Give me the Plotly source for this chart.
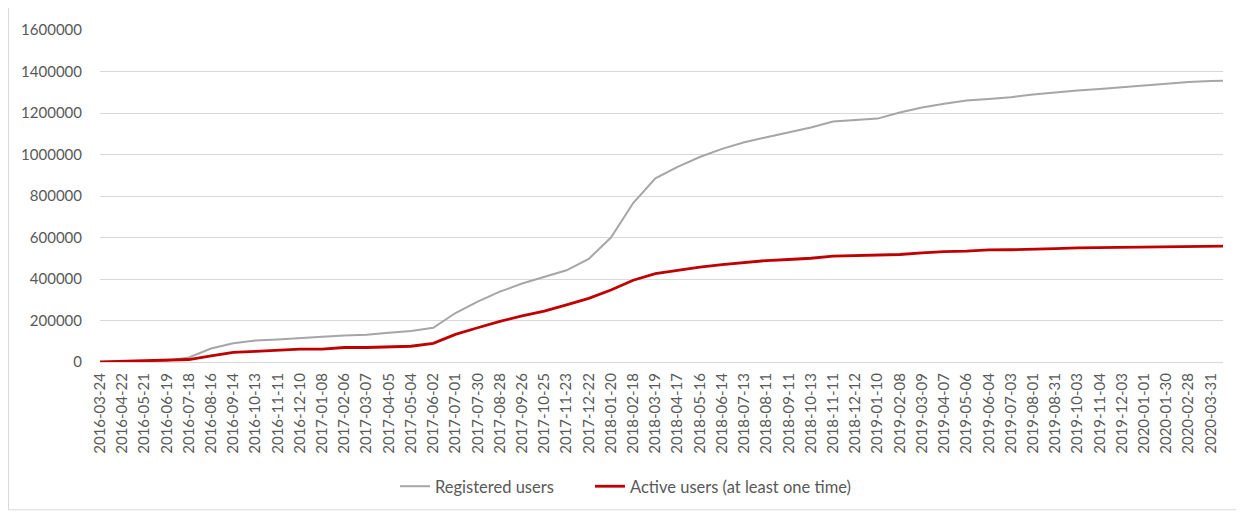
import plotly.graph_objects as go

tick_labels = ["2016-03-24","2016-04-22","2016-05-21","2016-06-19","2016-07-18","2016-08-16",
               "2016-09-14","2016-10-13","2016-11-11","2016-12-10","2017-01-08","2017-02-06",
               "2017-03-07","2017-04-05","2017-05-04","2017-06-02","2017-07-01","2017-07-30",
               "2017-08-28","2017-09-26","2017-10-25","2017-11-23","2017-12-22","2018-01-20",
               "2018-02-18","2018-03-19","2018-04-17","2018-05-16","2018-06-14","2018-07-13",
               "2018-08-11","2018-09-11","2018-10-13","2018-11-11","2018-12-12","2019-01-10",
               "2019-02-08","2019-03-09","2019-04-07","2019-05-06","2019-06-04","2019-07-03",
               "2019-08-01","2019-08-31","2019-10-03","2019-11-04","2019-12-03","2020-01-01",
               "2020-01-30","2020-02-28","2020-03-31"]

# category positions (one per tick label) plus the last data category after 2020-03-31
positions = list(range(len(tick_labels))) + [50.55]

registered = [0, 2000, 4000, 6000, 22000, 65000, 90000, 104000, 109000, 117000,
              122000, 128000, 131000, 141000, 149000, 165000, 236000, 291000, 339000, 378000,
              410000, 442000, 497000, 600000, 766000, 885000, 940000, 988000, 1027000, 1059000,
              1083000, 1107000, 1130000, 1159000, 1166000, 1173000, 1202000, 1226000, 1245000, 1260000,
              1268000, 1276000, 1289000, 1300000, 1309000, 1316000, 1325000, 1333000, 1341000, 1349000,
              1354000, 1356000]

active = [0, 3000, 6000, 7000, 12000, 30000, 46000, 51000, 55000, 62000,
          62000, 70000, 70000, 74000, 76000, 90000, 133000, 165000, 196000, 222000,
          245000, 275000, 307000, 347000, 394000, 426000, 442000, 457000, 469000, 478000,
          489000, 494000, 500000, 510000, 512000, 514000, 518000, 526000, 532000, 534000,
          540000, 541000, 542000, 546000, 550000, 551000, 552000, 553000, 555000, 556000,
          557000, 558000]

y_ticks = [0, 200000, 400000, 600000, 800000, 1000000, 1200000, 1400000, 1600000]

FONT = "Lato, 'Open Sans', sans-serif"
TXT = "#595959"

fig = go.Figure()
fig.add_trace(go.Scatter(x=positions, y=registered, mode="lines", name="Registered users",
                         line=dict(color="#A6A6A6", width=2), legend="legend"))
fig.add_trace(go.Scatter(x=positions, y=active, mode="lines", name="Active users (at least one time)",
                         line=dict(color="#C00000", width=2.8), legend="legend2"))

W, H = 1236, 508  # page body adds an 8px offset
PW = W - 92 - 21
leg_common = dict(orientation="h", xanchor="left", y=-0.375, yanchor="middle",
                  font=dict(family=FONT, size=16.5, color=TXT), itemwidth=30,
                  bgcolor="rgba(0,0,0,0)")
fig.update_layout(
    width=W, height=H,
    margin=dict(l=92, r=21, t=18, b=153),
    paper_bgcolor="white", plot_bgcolor="white",
    font=dict(family=FONT, size=15, color=TXT),
    showlegend=True,
    legend=dict(x=(387 - 92) / PW, **leg_common),
    legend2=dict(x=(582 - 92) / PW, **leg_common),
    xaxis=dict(range=[0, 50.55], tickmode="array", tickvals=list(range(len(tick_labels))),
               ticktext=tick_labels, tickangle=-90, showgrid=False, zeroline=False,
               showline=True, linecolor="#D9D9D9", linewidth=1, ticks="",
               tickfont=dict(family=FONT, size=15, color=TXT), ticklabelstandoff=4),
    yaxis=dict(range=[0, 1600000], tickmode="array", tickvals=y_ticks,
               ticktext=[str(v) for v in y_ticks], showgrid=True, gridcolor="#D9D9D9",
               gridwidth=1, zeroline=False, showline=False, ticks="",
               tickfont=dict(family=FONT, size=15, color=TXT), ticklabelstandoff=17),
    shapes=[dict(type="rect", xref="paper", yref="paper",
                 x0=(0.5 - 92) / PW, x1=(1230 - 92) / PW,
                 y0=(355 - 505) / 337, y1=(355 + 25) / 337,
                 line=dict(color="#D9D9D9", width=1), fillcolor="rgba(0,0,0,0)", layer="below")],
)

fig.write_html("out.html")
